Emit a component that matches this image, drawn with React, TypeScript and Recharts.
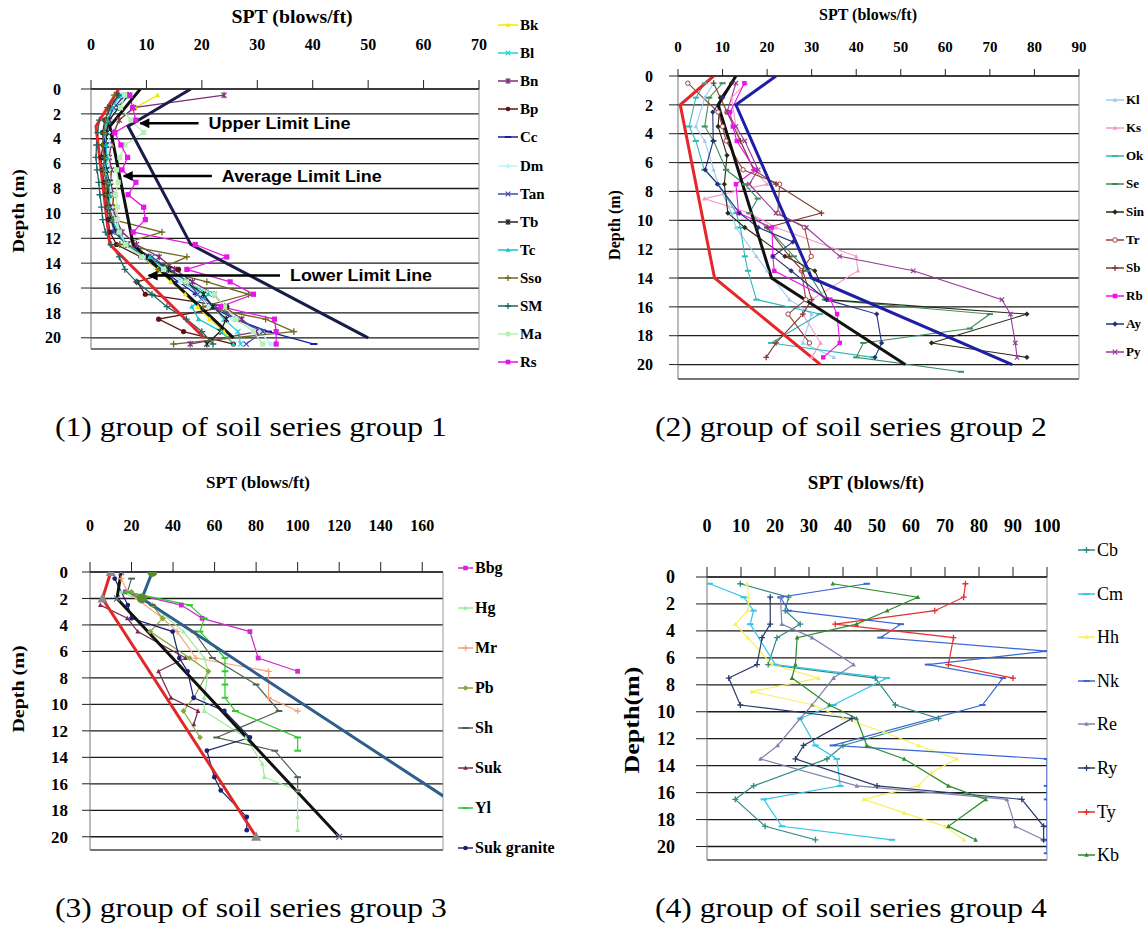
import React from 'react';
import { LineChart, Line, XAxis, YAxis, CartesianGrid, ReferenceLine, ReferenceDot } from 'recharts';

// depth of every SPT reading (m)
const depths = [0.5, 1.5, 2.5, 3.5, 4.5, 5.5, 6.5, 7.5, 8.5, 9.5, 10.5, 11.5, 12.5, 13.5, 14.5, 15.5, 16.5, 17.5, 18.5, 19.5, 20.5];
const depthTicks = [0, 2, 4, 6, 8, 10, 12, 14, 16, 18, 20];

// ---- group 1 ----
const g1Ticks = [0, 10, 20, 30, 40, 50, 60, 70];
const bk1 = [12, 8, 5, 4.2, 3.7, 3.2, 3.4, 3.8, 3.6, 4.3, 4.6, 5.3, 6.1, 9.3, 12, 14.4, 17, 19.3, 21.4, 24, 25.7];
const bl1 = [7, 4.5, 2.8, 2.2, 2.4, 2.6, 2.3, 2.9, 3.1, 3.6, 4.2, 5.2, 6.5, 9.5, 13, 16.5, 20, 22, 24, 26.5, 27];
const bn1 = [24, 7.7, 5.1, 4.1, 3.6, 3.3, 3.7, 3.5, 4.1, 3.9, 4.6, 5.6, 8.2, 12.3, 15.1, 18.3, 22.2, 24.1, 27.2, 30, 17.9];
const bp1 = [5, 3.5, 2.5, 2.1, 2.2, 1.8, 2, 2.4, 2.6, 2.9, 3.1, 3.4, 4.6, 9, 15.8, 8.3, 9.8, 24.5, 12.2, 16.7, 25.7];
const cc1 = [6, 4, 3.2, 2.7, 2.3, 2.6, 2.8, 3.1, 2.9, 3.3, 3.8, 4.4, 6.2, 9.2, 12.5, 15.8, 19, 21.5, 26, 32, 40.2];
const dm1 = [5.5, 4.2, 3.4, 3.1, 3.3, 3, 3.2, 3.5, 3.4, 3.7, 4.1, 5.1, 5.8, 9.4, 13.2, 16.2, 19.5, 21.2, 25.5, 30.5, 32.4];
const tan1 = [6.2, 4.1, 3.1, 2.6, 2.8, 2.5, 2.7, 2.9, 3.2, 3.1, 3.6, 4.2, 6.6, 11, 14.2, 17.5, 19.2, 22.5, 26.3, 31, 28];
const tb1 = [6.7, 5, 3.3, 2.9, 2.6, 2.4, 2.8, 3.3, 3.1, 3.4, 3.5, 4.7, 6.3, 10.4, 14, 17.2, 20.3, 22, 24.4, 23.3, 20.9];
const tc1 = [5.2, 3.8, 3, 2.5, 2.7, 2.9, 2.6, 3.2, 3.4, 3.2, 3.9, 4.8, 6.4, 10.6, 13.4, 17.4, 21.2, 18.2, 19.4, 23.5, 25.7];
const sso1 = [4.2, 3.2, 2.6, 2.3, 2.1, 2.4, 2.2, 2.8, 2.7, 3.1, 4, 12.8, 5.2, 17.3, 12.2, 20.9, 28.4, 20.2, 31.5, 36.6, 14.9];
const sm1 = [5, 3, 1.5, 1.2, 1, 0.9, 1.1, 1.4, 1.6, 1.9, 2.1, 2.6, 3.6, 5.1, 6.1, 8.2, 11, 13.7, 17.2, 20, 22];
const ma1 = [6.2, 5.3, 7.2, 9.5, 6.1, 5.2, 4.6, 4.9, 4.4, 4.8, 4.7, 5.1, 6.3, 9.1, 13.1, 17.2, 22.3, 24.1, 26.2, 29.3, 31];
const rs1 = [7, 7.5, 8.1, 4.3, 5.4, 6.6, 5.6, 8.1, 6.7, 9.5, 9.8, 7.6, 18.8, 24.5, 17.3, 25.1, 29.3, 23.4, 33.1, 33.4, 33.4];
const g1LimitDepth = [0, 3, 12.5, 20];
const g1Upper = [18, 6.7, 18, 50];
const g1Average = [8.9, 3.4, 7.6, 25.7];
const g1Lower = [5, 0.9, 3.4, 20.4];
const g1Notes = ['Upper Limit Line', 'Average Limit Line', 'Lower Limit Line'];
const g1NoteDepth = [2.75, 7, 15];
const g1NoteFrom = [8.9, 5.9, 10.4];
const g1NoteTo = [19.4, 21.8, 34.1];

// ---- group 2 ----
const g2Ticks = [0, 10, 20, 30, 40, 50, 60, 70, 80, 90];
const kl2 = [8, 6, null, 4, 6, null, 8, 9, null, 12, 13, null, 17.6, 20, null, 25, 30, null, 28, 35, null];
const ks2 = [15.3, 12, null, 13, 14, null, 17, 20, 5.9, 16, 22, null, 40, 40.4, null, 30, 28, null, 32, 30, null];
const ok2 = [6, 4, null, 2.5, 4, null, 5.9, 9, null, 13.1, 14, null, 15, 15.7, null, 17.6, 31.8, null, 20.9, 43.8, null];
const se2 = [10, 7, null, 6, 8, null, 10.8, 15, 17.9, 16, 20, null, 26, 29, null, 33, 70, 65.5, 41.6, 40, 63.5];
const sin2 = [12, 9.5, null, 9, null, 11, null, 10.4, null, 11.2, 15, null, 24, 30.7, null, 33.7, 78.3, null, 56.9, 78.3, null];
const tr2 = [2.2, null, 9, 10, 10.8, null, 14.6, 22.8, null, 22.4, 28.4, null, 29.9, 27.7, null, 28.7, 24.7, null, 29.5, null, null];
const sb2 = [8, null, 11, null, 14, null, 17, 22, null, 32.2, 20, null, 25, 28, null, 30, 28, null, 22, 19.8, null];
const rb2 = [14.9, null, 11.7, 12.3, 13.2, null, 17.3, 13, null, 13.6, 21.1, null, 21.3, 21.6, null, 34.2, 35.7, null, 36.3, 32.6, null];
const ay2 = [null, 10, 7.8, null, 7.9, null, 6.1, 8.9, null, 13.8, 18, 25.8, 21.3, 25.4, null, 33.3, 44.6, null, 45.7, 44.2, null];
const py2 = [13, null, 11, 13, 15, null, 18, 16, null, 22, 28.8, null, 36.3, 52.8, null, 72.7, 74.6, null, 75.7, 76.1, null];
const g2LimitDepth = [0, 2, 14, 20];
const g2Upper = [22, 13, 30, 75];
const g2Average = [13, 9, 21, 51];
const g2Lower = [8, 0.5, 8.2, 32];

// ---- group 3 ----
const g3Ticks = [0, 20, 40, 60, 80, 100, 120, 140, 160];
const bbg3 = [null, 17, 44, 54, 77, null, 81, 100];
const hg3 = [null, 15, 30, null, 45, null, 55, 57, null, 55, 55, null, 75, null, 83, 84, 100, null, 100, 100];
const mr3 = [15, 18, null, 35, 42, null, 51, 86, null, 86, 100];
const pb3 = [null, 20, 30, 35, 29, null, 48, 57, null, 50, 45, null, 53];
const sh3 = [20, 18, 30, null, 50, null, 59, null, 80, null, 91, null, 61, 89, null, 100, 100];
const suk3 = [null, null, 5, 18, 23, null, 46, 33, null, 39, 52, 50];
const yl3 = [null, 18, 48, 55, 53, null, 65, 65, 65, 65, 70, null, 100, 100];
const skg3 = [11.9, null, 18.2, 20, 39.8, null, 43, 47, null, 49.9, 64.7, null, 77, 56.3, null, 59.9, 63, null, 75.5, 75.5];
const g3LimitDepth = [0, 2, 20];
const g3Upper = [30, 25, 200];
const g3Average = [15, 13, 120];
const g3Lower = [10, 6, 80];

// ---- group 4 ----
const g4Ticks = [0, 10, 20, 30, 40, 50, 60, 70, 80, 90, 100];
const cb4 = [9.8, 24, 23, 27.4, 20.6, null, 18, 49.5, null, 55.4, 68.1, null, 40, 35.3, null, 13.7, 8.3, null, 17.1, 31.9, null];
const cm4 = [0.8, 10.8, 13.7, 12.7, null, null, 20.1, 52.9, null, 37.2, 27.4, null, 31.9, 38.2, null, 39.2, 16.7, null, 22, 54.4, null];
const hh4 = [11.8, 12.2, 12, 8.3, 12, null, 19.1, 32.8, 13.2, 31.4, 40, 52, 62.2, 73.5, 66, 62.2, 46.1, 58, 70, 75.5, null];
const nk4 = [47, 21.6, 24, 57, 51, 100, 65, 87, null, 81, null, null, 37, 100, null, 100, 100, null, 100, 100, 100];
const re4 = [null, 21.6, null, 22, 30.9, null, 43.1, 37.2, null, 30.9, 27.4, null, 20.8, 15.7, null, 44.1, 88.2, null, 90.7, 99, null];
const ry4 = [null, 18.6, null, 18.6, 16.2, null, 14.7, 6.4, null, 9.8, 42.6, null, 28.4, 26, null, 50, 92.6, null, 99, 99, null];
const ty4 = [76, 75.5, 67, 37.7, 72.5, null, 71, 90];
const kb4 = [37, 62, 53, 44, 26.5, null, 26, 25, null, 36, 44, null, 47, 58, null, 71, 82, null, 71, 79, null];

type Shape = 'tri' | 'x' | 'star' | 'dot' | 'ring' | 'dash' | 'diamond' | 'square' | 'plus';
type Series = { name: string; values: (number | null)[]; color: string; shape: Shape };
type Limit = { id: string; depths: number[]; values: number[]; color: string; dot?: Shape; dotColor?: string; dotSize?: number };

const serif = '"Liberation Serif", "Times New Roman", serif';

function Marker({ cx, cy, shape, color, size }: { cx: number; cy: number; shape: Shape; color: string; size: number }) {
  const s = size;
  switch (shape) {
    case 'tri':
      return <path d={`M${cx},${cy - s * 1.1}L${cx + s},${cy + s * 0.8}L${cx - s},${cy + s * 0.8}Z`} fill={color} />;
    case 'square':
      return <rect x={cx - s} y={cy - s} width={s * 2} height={s * 2} fill={color} />;
    case 'diamond':
      return <path d={`M${cx},${cy - s * 1.2}L${cx + s * 1.2},${cy}L${cx},${cy + s * 1.2}L${cx - s * 1.2},${cy}Z`} fill={color} />;
    case 'dot':
      return <circle cx={cx} cy={cy} r={s} fill={color} />;
    case 'ring':
      return <circle cx={cx} cy={cy} r={s} fill="#fff" stroke={color} strokeWidth={1} />;
    case 'x':
      return <path d={`M${cx - s},${cy - s}L${cx + s},${cy + s}M${cx - s},${cy + s}L${cx + s},${cy - s}`} stroke={color} strokeWidth={1.2} />;
    case 'star':
      return (
        <path
          d={`M${cx - s},${cy - s}L${cx + s},${cy + s}M${cx - s},${cy + s}L${cx + s},${cy - s}M${cx},${cy - s * 1.3}L${cx},${cy + s * 1.3}`}
          stroke={color}
          strokeWidth={1.2}
        />
      );
    case 'plus':
      return <path d={`M${cx - s * 1.3},${cy}L${cx + s * 1.3},${cy}M${cx},${cy - s * 1.3}L${cx},${cy + s * 1.3}`} stroke={color} strokeWidth={1.3} />;
    case 'dash':
    default:
      return <path d={`M${cx - s * 1.4},${cy}L${cx + s * 1.4},${cy}`} stroke={color} strokeWidth={2} />;
  }
}

const dotFn = (shape: Shape, color: string, size: number, maxV = Infinity) => (props: any) => {
  const { cx, cy, index, payload } = props;
  if (cx == null || cy == null || (payload && payload.v > maxV)) return <g key={`d${index}`} />;
  return (
    <g key={`d${index}`}>
      <Marker cx={cx} cy={cy} shape={shape} color={color} size={size} />
    </g>
  );
};

function toRows(ds: number[], values: (number | null)[]) {
  const rows: { depth: number; v: number }[] = [];
  values.forEach((v, i) => {
    if (v !== null && v !== undefined) rows.push({ depth: ds[i], v });
  });
  return rows;
}

type PanelProps = {
  left: number; top: number; width: number; height: number;
  yw: number; xh: number; mr: number; mb: number;
  xMax: number; xTicks: number[]; yMax: number;
  xTick: any; yTick: any;
  xTickSize: number; xTickMargin: number; yTickSize: number; yTickMargin: number;
  series: Series[]; limits: Limit[];
  lineW: number; markSize: number; limitW: number;
  extra?: React.ReactNode;
};

function Panel(p: PanelProps) {
  return (
    <div style={{ position: 'absolute', left: p.left, top: p.top }}>
      <LineChart layout="vertical" width={p.width} height={p.height} margin={{ top: 0, right: p.mr, bottom: p.mb, left: 0 }}>
        <CartesianGrid horizontal vertical={false} stroke="#1a1a1a" strokeWidth={1.3} />
        <XAxis
          type="number"
          orientation="top"
          domain={[0, p.xMax]}
          ticks={p.xTicks}
          interval={0}
          allowDataOverflow
          height={p.xh}
          tickSize={p.xTickSize}
          tickMargin={p.xTickMargin}
          axisLine={{ stroke: '#222' }}
          tickLine={{ stroke: '#222' }}
          tick={p.xTick}
        />
        <YAxis
          type="number"
          dataKey="depth"
          domain={[0, p.yMax]}
          ticks={depthTicks}
          interval={0}
          allowDataOverflow
          width={p.yw}
          tickSize={p.yTickSize}
          tickMargin={p.yTickMargin}
          axisLine={{ stroke: '#777' }}
          tickLine={{ stroke: '#222' }}
          tick={p.yTick}
        />
        <ReferenceLine x={p.xMax} stroke="#999" />
        <ReferenceLine y={p.yMax} stroke="#999" />
        {p.series.map((s) => (
          <Line
            key={s.name}
            data={toRows(depths, s.values)}
            dataKey="v"
            name={s.name}
            stroke={s.color}
            strokeWidth={p.lineW}
            dot={dotFn(s.shape, s.color, p.markSize)}
            activeDot={false}
            legendType="none"
            isAnimationActive={false}
          />
        ))}
        {p.limits.map((l) => (
          <Line
            key={l.id}
            data={toRows(l.depths, l.values)}
            dataKey="v"
            name={l.id}
            stroke={l.color}
            strokeWidth={p.limitW}
            dot={l.dot ? dotFn(l.dot, l.dotColor || l.color, l.dotSize || 4, p.xMax) : false}
            activeDot={false}
            legendType="none"
            isAnimationActive={false}
          />
        ))}
        {p.extra}
      </LineChart>
    </div>
  );
}

function LegendBox({ items, x, y0, gap, lineW, font }: { items: Series[]; x: number; y0: number; gap: number; lineW: number; font: React.CSSProperties }) {
  return (
    <>
      {items.map((s, i) => (
        <div
          key={s.name}
          style={{ position: 'absolute', left: x, top: y0 + i * gap - 10, height: 20, display: 'flex', alignItems: 'center', whiteSpace: 'nowrap' }}
        >
          <svg width={lineW} height={12} style={{ display: 'block' }}>
            <line x1={0} y1={6} x2={lineW} y2={6} stroke={s.color} strokeWidth={1.5} />
            <Marker cx={lineW / 2} cy={6} shape={s.shape} color={s.color} size={2.3} />
          </svg>
          <span style={{ ...font, marginLeft: 2, lineHeight: '20px', color: '#000' }}>{s.name}</span>
        </div>
      ))}
    </>
  );
}

function Txt({ x, y, text, style, align = 'center', rotate = 0, sx = 1 }: { x: number; y: number; text: string; style: React.CSSProperties; align?: 'center' | 'left'; rotate?: number; sx?: number }) {
  return (
    <div
      style={{
        position: 'absolute',
        left: x,
        top: y,
        transform: `translate(${align === 'center' ? '-50%' : '0'}, -50%) rotate(${rotate}deg) scaleX(${sx})`,
        transformOrigin: align === 'center' ? '50% 50%' : '0 50%',
        whiteSpace: 'nowrap',
        lineHeight: 1,
        color: '#000',
        ...style,
      }}
    >
      {text}
    </div>
  );
}

const g1Series: Series[] = [
  { name: 'Bk', values: bk1, color: '#F2E800', shape: 'tri' },
  { name: 'Bl', values: bl1, color: '#22D3D3', shape: 'x' },
  { name: 'Bn', values: bn1, color: '#7A2E7A', shape: 'star' },
  { name: 'Bp', values: bp1, color: '#5A1414', shape: 'dot' },
  { name: 'Cc', values: cc1, color: '#1E1EA0', shape: 'dash' },
  { name: 'Dm', values: dm1, color: '#BFF3F3', shape: 'diamond' },
  { name: 'Tan', values: tan1, color: '#4848A8', shape: 'x' },
  { name: 'Tb', values: tb1, color: '#222222', shape: 'star' },
  { name: 'Tc', values: tc1, color: '#12C6C6', shape: 'tri' },
  { name: 'Sso', values: sso1, color: '#6E6A1E', shape: 'plus' },
  { name: 'SM', values: sm1, color: '#1C6664', shape: 'plus' },
  { name: 'Ma', values: ma1, color: '#B6F0B6', shape: 'square' },
  { name: 'Rs', values: rs1, color: '#E616E6', shape: 'square' },
];
const g2Series: Series[] = [
  { name: 'Kl', values: kl2, color: '#9CCBF2', shape: 'tri' },
  { name: 'Ks', values: ks2, color: '#F59AC8', shape: 'tri' },
  { name: 'Ok', values: ok2, color: '#2DB8B8', shape: 'dash' },
  { name: 'Se', values: se2, color: '#3C8C5C', shape: 'dash' },
  { name: 'Sin', values: sin2, color: '#2A2A1A', shape: 'diamond' },
  { name: 'Tr', values: tr2, color: '#9A4040', shape: 'ring' },
  { name: 'Sb', values: sb2, color: '#7E3A2E', shape: 'plus' },
  { name: 'Rb', values: rb2, color: '#F010F0', shape: 'square' },
  { name: 'Ay', values: ay2, color: '#24307E', shape: 'diamond' },
  { name: 'Py', values: py2, color: '#983A98', shape: 'x' },
];
const g3Series: Series[] = [
  { name: 'Bbg', values: bbg3, color: '#D02AD0', shape: 'square' },
  { name: 'Hg', values: hg3, color: '#9DEB9D', shape: 'tri' },
  { name: 'Mr', values: mr3, color: '#F7A478', shape: 'plus' },
  { name: 'Pb', values: pb3, color: '#86A83A', shape: 'diamond' },
  { name: 'Sh', values: sh3, color: '#4E624E', shape: 'dash' },
  { name: 'Suk', values: suk3, color: '#7A2A4A', shape: 'tri' },
  { name: 'Yl', values: yl3, color: '#2ECB2E', shape: 'dash' },
  { name: 'Suk granite', values: skg3, color: '#1C2070', shape: 'dot' },
];
const g4Series: Series[] = [
  { name: 'Cb', values: cb4, color: '#2F8A80', shape: 'plus' },
  { name: 'Cm', values: cm4, color: '#33C4EA', shape: 'dash' },
  { name: 'Hh', values: hh4, color: '#F8F060', shape: 'tri' },
  { name: 'Nk', values: nk4, color: '#3A66DA', shape: 'dash' },
  { name: 'Re', values: re4, color: '#8282B2', shape: 'tri' },
  { name: 'Ry', values: ry4, color: '#2C3C6C', shape: 'plus' },
  { name: 'Ty', values: ty4, color: '#E43030', shape: 'plus' },
  { name: 'Kb', values: kb4, color: '#2C8C2C', shape: 'tri' },
];

const arrowHead = (p: any) => <path d={`M${p.cx - 1},${p.cy}L${p.cx + 9},${p.cy - 5}L${p.cx + 9},${p.cy + 5}Z`} fill="#000" />;
const noteLen = [142, 160, 142];

const g1Extra = g1Notes.map((label, i) => (
  <React.Fragment key={label}>
    <ReferenceLine
      segment={[
        { x: g1NoteFrom[i], y: g1NoteDepth[i] },
        { x: g1NoteTo[i], y: g1NoteDepth[i] },
      ]}
      stroke="#000"
      strokeWidth={2.5}
    />
    <ReferenceDot x={g1NoteFrom[i]} y={g1NoteDepth[i]} r={1} shape={arrowHead} />
    <ReferenceDot
      x={g1NoteTo[i]}
      y={g1NoteDepth[i]}
      r={1}
      shape={(p: any) => (
        <text
          x={p.cx + 10}
          y={p.cy}
          dy="0.36em"
          fontFamily='"Liberation Sans", Arial, sans-serif'
          fontWeight={700}
          fontSize={16}
          textLength={noteLen[i]}
          lengthAdjust="spacingAndGlyphs"
          fill="#000"
        >
          {label}
        </text>
      )}
    />
  </React.Fragment>
));

export default function App() {
  const b = (size: number) => ({ fill: '#000', fontSize: size, fontWeight: 700, fontFamily: serif });
  return (
    <div style={{ position: 'fixed', left: 0, top: 0, width: 1145, height: 926, overflow: 'hidden', background: '#fff' }}>
      <Panel
        left={0} top={0} width={490} height={360} yw={91} xh={89} mr={11} mb={11}
        xMax={70} xTicks={g1Ticks} yMax={20.9}
        xTick={b(16)} yTick={b(16)}
        xTickSize={9} xTickMargin={30} yTickSize={10} yTickMargin={20}
        series={g1Series}
        limits={[
          { id: 'upper', depths: g1LimitDepth, values: g1Upper, color: '#191C4A' },
          { id: 'average', depths: g1LimitDepth, values: g1Average, color: '#111111' },
          { id: 'lower', depths: g1LimitDepth, values: g1Lower, color: '#E6262A' },
        ]}
        lineW={1.3} markSize={2.6} limitW={3}
        extra={g1Extra}
      />
      <Panel
        left={560} top={0} width={530} height={390} yw={118} xh={76} mr={11} mb={11}
        xMax={90} xTicks={g2Ticks} yMax={21}
        xTick={b(15)} yTick={b(16)}
        xTickSize={7} xTickMargin={17} yTickSize={9} yTickMargin={16}
        series={g2Series}
        limits={[
          { id: 'upper', depths: g2LimitDepth, values: g2Upper, color: '#1E1EA6' },
          { id: 'average', depths: g2LimitDepth, values: g2Average, color: '#111111' },
          { id: 'lower', depths: g2LimitDepth, values: g2Lower, color: '#E6262A' },
        ]}
        lineW={1.1} markSize={2.2} limitW={3}
      />
      <Panel
        left={0} top={460} width={455} height={400} yw={90} xh={112} mr={12} mb={10}
        xMax={170} xTicks={g3Ticks} yMax={21}
        xTick={b(16)} yTick={b(17)}
        xTickSize={10} xTickMargin={31} yTickSize={8} yTickMargin={14}
        series={g3Series}
        limits={[
          { id: 'upper', depths: g3LimitDepth, values: g3Upper, color: '#2E5E8E', dot: 'dot', dotColor: '#5C8A2E', dotSize: 5 },
          { id: 'average', depths: g3LimitDepth, values: g3Average, color: '#111111', dot: 'x', dotColor: '#6A7A9A', dotSize: 3 },
          { id: 'lower', depths: g3LimitDepth, values: g3Lower, color: '#E02828', dot: 'tri', dotColor: '#8A8A8A', dotSize: 5 },
        ]}
        lineW={1.2} markSize={2.4} limitW={3}
      />
      <Panel
        left={600} top={460} width={460} height={410} yw={107} xh={117} mr={13} mb={10}
        xMax={100} xTicks={g4Ticks} yMax={21}
        xTick={b(18)} yTick={b(18)}
        xTickSize={10} xTickMargin={35} yTickSize={11} yTickMargin={21}
        series={g4Series}
        limits={[]}
        lineW={1.2} markSize={2.3} limitW={3}
      />

      <LegendBox items={g1Series} x={498} y0={25} gap={28.1} lineW={20} font={{ fontFamily: serif, fontSize: 15, fontWeight: 700 }} />
      <LegendBox items={g2Series} x={1106} y0={100} gap={28} lineW={18} font={{ fontFamily: serif, fontSize: 13, fontWeight: 700 }} />
      <LegendBox items={g3Series} x={458} y0={568} gap={40} lineW={15} font={{ fontFamily: serif, fontSize: 16, fontWeight: 700 }} />
      <LegendBox items={g4Series} x={1078} y0={550} gap={43.6} lineW={17} font={{ fontFamily: serif, fontSize: 18 }} />

      <Txt x={292} y={17} sx={1.1} text="SPT (blows/ft)" style={{ fontFamily: serif, fontSize: 18, fontWeight: 700 }} />
      <Txt x={868} y={15} text="SPT (blows/ft)" style={{ fontFamily: serif, fontSize: 16, fontWeight: 700 }} />
      <Txt x={258} y={482} text="SPT (blows/ft)" style={{ fontFamily: serif, fontSize: 17, fontWeight: 700 }} />
      <Txt x={866} y={482} text="SPT (blows/ft)" style={{ fontFamily: serif, fontSize: 19, fontWeight: 700 }} />

      <Txt x={19} y={211} rotate={-90} sx={1.2} text="Depth (m)" style={{ fontFamily: serif, fontSize: 16, fontWeight: 700 }} />
      <Txt x={615} y={225} rotate={-90} text="Depth (m)" style={{ fontFamily: serif, fontSize: 16, fontWeight: 700 }} />
      <Txt x={19} y={689} rotate={-90} sx={1.25} text="Depth (m)" style={{ fontFamily: serif, fontSize: 16, fontWeight: 700 }} />
      <Txt x={632} y={720} rotate={-90} sx={1.3} text="Depth(m)" style={{ fontFamily: serif, fontSize: 20, fontWeight: 700 }} />

      <Txt x={55} y={427} align="left" sx={1.13} text="(1) group of soil series group 1" style={{ fontFamily: serif, fontSize: 28 }} />
      <Txt x={655} y={427} align="left" sx={1.13} text="(2) group of soil series group 2" style={{ fontFamily: serif, fontSize: 28 }} />
      <Txt x={55} y={908} align="left" sx={1.13} text="(3) group of soil series group 3" style={{ fontFamily: serif, fontSize: 28 }} />
      <Txt x={655} y={908} align="left" sx={1.13} text="(4) group of soil series group 4" style={{ fontFamily: serif, fontSize: 28 }} />
    </div>
  );
}
